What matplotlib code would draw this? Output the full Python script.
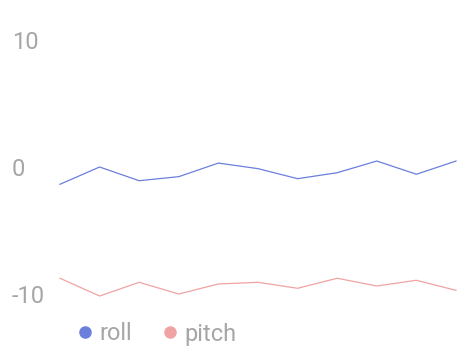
import matplotlib
matplotlib.use("Agg")
import matplotlib.pyplot as plt
from matplotlib.lines import Line2D

plt.rcParams['font.family'] = ['Roboto', 'DejaVu Sans']

x = list(range(11))
roll = [-1.36, 0.0, -1.08, -0.76, 0.31, -0.13, -0.92, -0.45, 0.47, -0.57, 0.47]
pitch = [-8.76, -10.16, -9.08, -10.0, -9.21, -9.08, -9.55, -8.76, -9.37, -8.92, -9.71]
yticks = [-10, 0, 10]
ytick_labels = ["-10", "0", "10"]
series_names = ["roll", "pitch"]

blue = "#6b7fdc"
pink = "#f0a3a3"
gray = "#a6a6a6"

fig = plt.figure(figsize=(4.76, 3.58), dpi=100)
ax = fig.add_axes([60/476, 1-294/358, (456-60)/476, (294-40)/358])
ax.plot(x, roll, color=blue, lw=0.9, clip_on=False)
ax.plot(x, pitch, color=pink, lw=0.9, clip_on=False)
ax.set_xlim(0, 10)
ax.set_ylim(-10, 10)
for s in ax.spines.values():
    s.set_visible(False)
ax.set_xticks([])
ax.set_yticks(yticks)
ax.set_yticklabels(ytick_labels)
ax.tick_params(axis='y', length=0, pad=48*72/100, labelsize=17, labelcolor=gray)
for t in ax.get_yticklabels():
    t.set_horizontalalignment('left')

handles = [Line2D([], [], marker='o', ls='none', color=c, markersize=8) for c in (blue, pink)]
leg = fig.legend(handles, series_names, loc='center left', bbox_to_anchor=(50/476, 1-334/358),
                 ncol=2, frameon=False, handletextpad=0.0, columnspacing=1.0,
                 handlelength=1.2, prop={'size': 17})
for t in leg.get_texts():
    t.set_color(gray)

fig.savefig("out.png", dpi=100)
